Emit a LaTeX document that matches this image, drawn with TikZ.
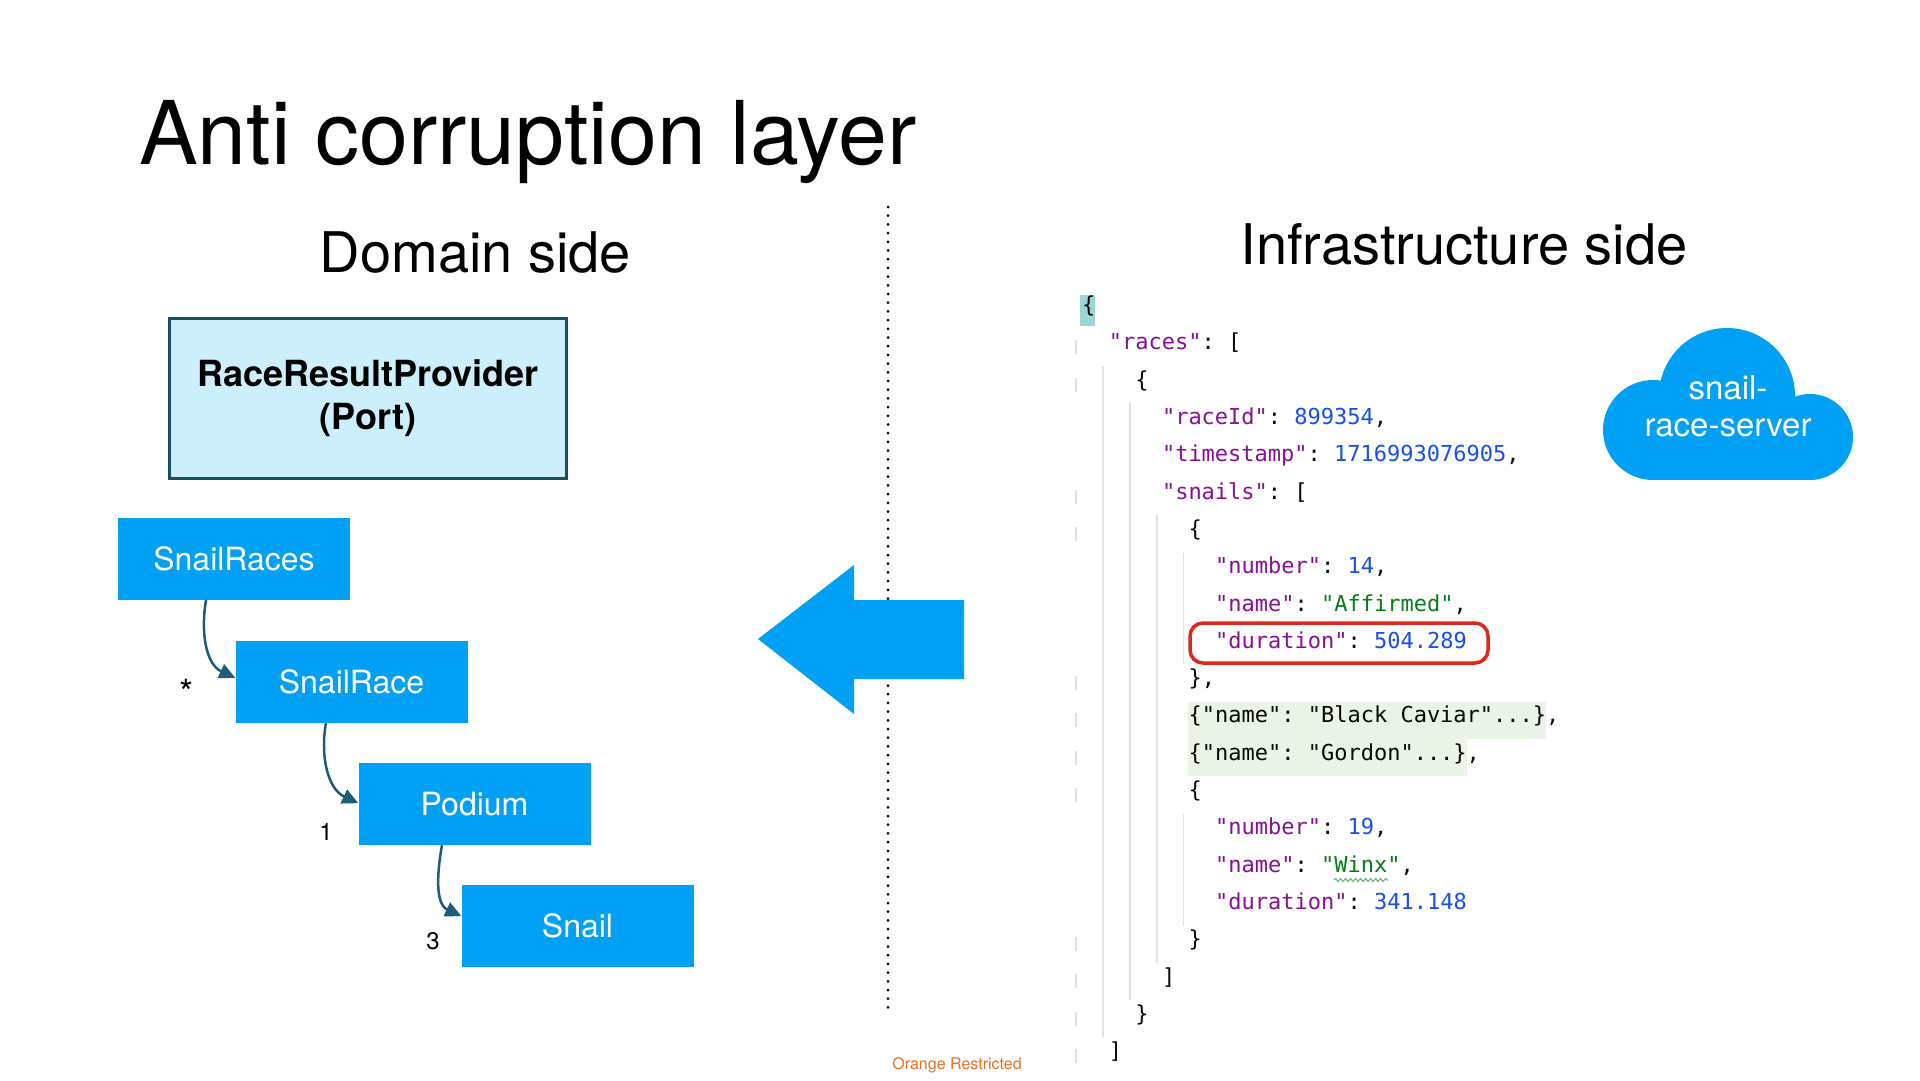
\documentclass[tikz,border=0pt]{standalone}
\usepackage{fontspec}
\setmainfont{TeX Gyre Heros}
\setmonofont{DejaVu Sans Mono}
\usepackage{tikz}
\usetikzlibrary{calc,arrows.meta,decorations.pathmorphing}
\definecolor{boxblue}{RGB}{0,160,245}
\definecolor{portfill}{RGB}{205,238,251}
\definecolor{portline}{RGB}{27,79,95}
\definecolor{linkcol}{RGB}{30,90,122}
\definecolor{jkey}{RGB}{135,16,148}
\definecolor{jnum}{RGB}{23,80,235}
\definecolor{jstr}{RGB}{6,125,23}
\definecolor{jpunct}{RGB}{8,8,8}
\definecolor{guide}{RGB}{226,226,226}
\definecolor{foldbg}{RGB}{233,244,230}
\definecolor{bracebg}{RGB}{153,214,214}
\definecolor{redmark}{RGB}{222,40,30}
\definecolor{orangetxt}{RGB}{228,112,40}
\newcommand\sz[2]{\fontsize{#1}{#2}\selectfont}
\newcommand\jk[1]{\textcolor{jkey}{"#1"}}
\newcommand\jn[1]{\textcolor{jnum}{#1}}
\newcommand\js[1]{\textcolor{jstr}{"#1"}}

\begin{document}
\begin{tikzpicture}[x=1pt,y=-1pt,
    entity/.style={fill=boxblue,text=white,minimum width=232,minimum height=82,inner sep=0,font=\sz{32}{38}},
    link/.style={draw=linkcol,line width=2.5,-{Triangle[length=16,width=15]}},
    mult/.style={anchor=base,inner sep=0,font=\sz{24}{28}},
    code/.style={anchor=mid west,inner sep=0,text=jpunct,font=\ttfamily\sz{22}{26}},
    guideline/.style={draw=guide,line width=1.5}]
  \useasboundingbox (0,0) rectangle (1920,1080);
  \fill[white] (0,0) rectangle (1920,1080);
  \node[anchor=base west,inner sep=0,font=\sz{88}{100}] (title) at (139,164) {Anti corruption layer};
  \node[anchor=base,inner sep=0,font=\sz{56}{68}] (domain) at (475.5,272) {Domain side};
  \node[anchor=base,inner sep=0,font=\sz{56}{68}] (infra) at (1464,264) {Infrastructure side};

  \node[draw=portline,fill=portfill,line width=3,minimum width=397,minimum height=160,align=center,font=\bfseries\sz{36}{43}] (port) at (368,398) {RaceResultProvider\\(Port)};
  \node[entity] (races) at (234,558.5) {SnailRaces};
  \node[entity] (race) at (351.5,682) {SnailRace};
  \node[entity] (podium) at (474.5,804) {Podium};
  \node[entity] (snail) at (577.5,926) {Snail};
  \draw[link] ($(races.south west)!0.38!(races.south east)$) to[out=-100,in=155] ($(race.north west)!0.45!(race.south west)$);
  \draw[link] ($(race.south west)!0.39!(race.south east)$) to[out=-100,in=155] ($(podium.north west)!0.49!(podium.south west)$);
  \draw[link] ($(podium.south west)!0.36!(podium.south east)$) to[out=-100,in=155] ($(snail.north west)!0.38!(snail.south west)$);
  \node[mult,font=\sz{36}{40}] (many) at (186,705) {*};
  \node[mult] (one) at (326,840.6) {1};
  \node[mult] (three) at (433,949.6) {3};

  \coordinate (divtop) at (888,207);
  \coordinate (divbot) at (888,1010);
  \draw[line width=3,line cap=round,dash pattern=on 0pt off 8.7pt] (divtop) -- (divbot);
  \fill[boxblue] (758,639) -- (854,565) -- (854,600) -- (964,600) -- (964,679) -- (854,679) -- (854,714) -- cycle;
  \node[font=\sz{16}{19},text=orangetxt,inner sep=0] (tag) at (957,1065) {Orange Restricted};

  \fill[boxblue] (1727,396) circle[radius=68] (1653,430) circle[radius=50] (1810,437) circle[radius=43];
  \fill[boxblue] (1653,420) rectangle (1810,480);
  \node[font=\sz{33}{37},text=white,align=center,inner sep=0] (server) at (1728,406) {snail-\\race-server};

  \fill[bracebg] (1080,295) rectangle (1095,326);
  \fill[foldbg] (1188,701.7) rectangle (1546,739);
  \fill[foldbg] (1188,739) rectangle (1467,776.2);
  \draw[guideline] (1103,366) -- (1103,1037.4) (1130,403.3) -- (1130,1000)
    (1157,515.2) -- (1157,962.8) (1183.5,552.5) -- (1183.5,664.4) (1183.5,813.6) -- (1183.5,925.5);
  \draw[guideline] (1076,340.3) -- (1076,354.3) (1076,377.6) -- (1076,391.6) (1076,489.5) -- (1076,503.5)
    (1076,526.8) -- (1076,540.8) (1076,676) -- (1076,690) (1076,713.3) -- (1076,727.3)
    (1076,750.6) -- (1076,764.6) (1076,787.9) -- (1076,801.9) (1076,937.1) -- (1076,951.1)
    (1076,974.4) -- (1076,988.4) (1076,1011.7) -- (1076,1025.7) (1076,1049) -- (1076,1063);
  \draw[redmark,line width=3.5,rounded corners=13] (1190,623) rectangle (1488,663);
  \draw[jstr!55,line width=1.2,decorate,decoration={snake,amplitude=1.5,segment length=5}] (1334,880) -- (1388,880);

  \node[code] (j0) at (1082,310) {\{};
  \node[code] (j1) at (1108.6,347.3) {\jk{races}: [};
  \node[code] (j2) at (1135.2,384.6) {\{};
  \node[code] (j3) at (1161.8,421.9) {\jk{raceId}: \jn{899354},};
  \node[code] (j4) at (1161.8,459.2) {\jk{timestamp}: \jn{1716993076905},};
  \node[code] (j5) at (1161.8,496.5) {\jk{snails}: [};
  \node[code] (j6) at (1188.4,533.8) {\{};
  \node[code] (j7) at (1215,571.1) {\jk{number}: \jn{14},};
  \node[code] (j8) at (1215,608.4) {\jk{name}: \js{Affirmed},};
  \node[code] (j9) at (1215,645.7) {\jk{duration}: \jn{504.289}};
  \node[code] (j10) at (1188.4,683) {\},};
  \node[code] (j11) at (1188.4,720.3) {\{"name": "Black Caviar"...\},};
  \node[code] (j12) at (1188.4,757.6) {\{"name": "Gordon"...\},};
  \node[code] (j13) at (1188.4,794.9) {\{};
  \node[code] (j14) at (1215,832.2) {\jk{number}: \jn{19},};
  \node[code] (j15) at (1215,869.5) {\jk{name}: \js{Winx},};
  \node[code] (j16) at (1215,906.8) {\jk{duration}: \jn{341.148}};
  \node[code] (j17) at (1188.4,944.1) {\}};
  \node[code] (j18) at (1161.8,981.4) {]};
  \node[code] (j19) at (1135.2,1018.7) {\}};
  \node[code] (j20) at (1108.6,1056) {]};
\end{tikzpicture}
\end{document}
